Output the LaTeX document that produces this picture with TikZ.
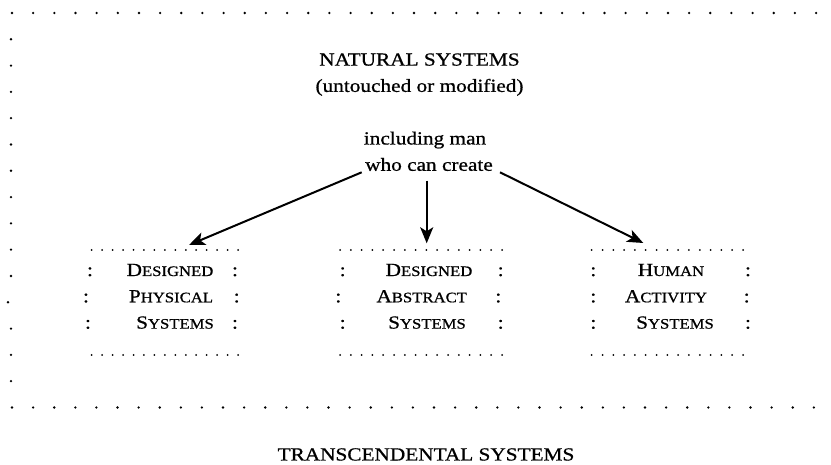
\documentclass[tikz,border=0pt]{standalone}
\usepackage{fontspec}
\setmainfont[FakeStretch=1.15,FakeBold=0.8]{Liberation Serif}
\usetikzlibrary{arrows.meta}

% initial capital followed by reduced capitals
\newcommand\capsc[2]{#1{\fontsize{14.5}{14.5}\selectfont #2}}

\begin{document}
\begin{tikzpicture}[x=1pt,y=-1pt,
  txt/.style={anchor=base,inner sep=0pt,font=\fontsize{18.5}{22}\selectfont},
  colon/.style={anchor=base,inner sep=0pt,font=\fontsize{18.5}{22}\selectfont},
  link/.style={line width=2pt,-{Stealth[length=16pt,width=13pt,inset=4pt]}}]
\useasboundingbox (0,0) rectangle (831,465);

% outer dotted frame: top row, left column, bottom row
\foreach \i in {0,...,38} \fill ({12+\i*21.16},13) circle (1.3pt);
\foreach \k in {1,...,10,12,13,14} \fill (11,{13+\k*26.3}) circle (1.3pt);
\fill (8,302.3) circle (1.3pt);
\foreach \i in {0,...,38} \fill ({12+\i*21.1},407.5) circle (1.3pt);

% headings
\node[txt] (nat) at (419.5,65.6) {NATURAL SYSTEMS};
\node[txt] (mod) at (419.5,91.9) {(untouched or modified)};
\node[txt] (man) at (425,144.5) {including man};
\node[txt] (who) at (429,170.8) {who can create};
\node[txt] (tra) at (426,460.5) {TRANSCENDENTAL SYSTEMS};

% dotted top and bottom edges of the three system boxes
\foreach \a/\b/\n in {91.7/238/14, 340/502/15, 591.7/743/14} {
  \foreach \j in {0,...,\n} {
    \fill ({\a+\j*(\b-\a)/\n},250) circle (1pt);
    \fill ({\a+\j*(\b-\a)/\n},355) circle (1pt);
  }
}

% colon side edges
\foreach \x/\y in {90/276, 86/302.3, 88/328.6, 235/276, 236.7/302.3, 235/328.6,
                   342.7/276, 338.3/302.3, 342.7/328.6, 500.7/276, 498.3/302.3, 500.7/328.6,
                   593.3/276, 593.3/302.3, 593.3/328.6, 748/276, 746.7/302.3, 748/328.6}
  \node[colon] at (\x,\y) {:};

% box contents
\node[txt] (p1) at (170,276) {\capsc{D}{ESIGNED}};
\node[txt] (p2) at (171,302.3) {\capsc{P}{HYSICAL}};
\node[txt] (p3) at (175,328.6) {\capsc{S}{YSTEMS}};
\node[txt] (a1) at (429,276) {\capsc{D}{ESIGNED}};
\node[txt] (a2) at (421.7,302.3) {\capsc{A}{BSTRACT}};
\node[txt] (a3) at (427,328.6) {\capsc{S}{YSTEMS}};
\node[txt] (h1) at (671,276) {\capsc{H}{UMAN}};
\node[txt] (h2) at (666,302.3) {\capsc{A}{CTIVITY}};
\node[txt] (h3) at (675,328.6) {\capsc{S}{YSTEMS}};

% arrow ends
\coordinate (sL) at (361.7,172.3);
\coordinate (sC) at (426.7,180.7);
\coordinate (sR) at (500,172.3);
\coordinate (tP) at (189,245);
\coordinate (tA) at (426.7,243.3);
\coordinate (tH) at (643.3,243);

\draw[link] (sL) -- (tP);
\draw[link] (sC) -- (tA);
\draw[link] (sR) -- (tH);
\end{tikzpicture}
\end{document}
